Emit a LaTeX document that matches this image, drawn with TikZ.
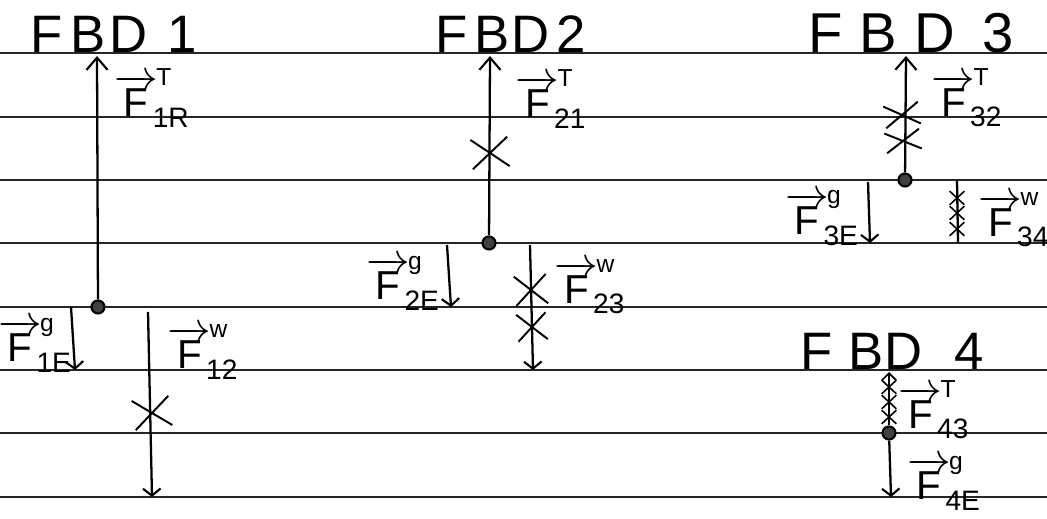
\documentclass[tikz,border=0pt]{standalone}
\usepackage{fontspec}
\setmainfont{Liberation Sans}
\usetikzlibrary{arrows.meta,shapes.misc}

% force label: vector F with a superscript type and a subscript pair
\newcommand{\forcelabel}[2]{$\overrightarrow{\mbox{F}}^{\kern-1pt\mbox{\fontsize{14}{14}\selectfont #1}}_{\kern-3pt\mbox{\fontsize{16}{16}\selectfont #2}}$}

\tikzset{
  ruling/.style={line width=1.1pt, black!85},
  force/.style={line width=1.3pt, -{Straight Barb[length=7pt,width=12pt,line width=1.2pt]}},
  downforce/.style={line width=1.3pt, -{Straight Barb[length=4pt,width=10pt,line width=1.2pt]}},
  body/.style={circle, draw, line width=1.2pt, fill=black!75, minimum size=0.26cm, inner sep=0pt},
  cut/.style={cross out, draw, line width=1.1pt, inner sep=0pt},
  smallcut/.style={cut, minimum width=0.26cm, minimum height=0.24cm, line width=0.9pt},
  bigcut/.style={cut, minimum width=0.7cm, minimum height=0.55cm},
  title/.style={anchor=base west, inner sep=0pt, font=\fontsize{30}{34}\selectfont},
  flabel/.style={inner sep=0pt, font=\fontsize{23}{26}\selectfont},
}

\begin{document}
\begin{tikzpicture}[x=0.02cm, y=-0.02cm]
\useasboundingbox (0,0) rectangle (1047,519);
\fill[white] (0,0) rectangle (1047,519);

% ruled paper
\foreach \y in {53,117,180,243,307,370,433,497}
  \draw[ruling] (0,\y) -- (1047,\y);

% ---------- FBD 1 ----------
\node[title] (t1) at (30,53) {\hbox to 3.34cm{F\hskip 0pt plus 1fil B\hskip 0pt plus 0.5fil D\hskip 0pt plus 2.5fil 1}};
\node[body] (d1) at (98,307) {};
\coordinate (d1T) at (97,56);
\draw[force] (d1) -- (d1T);
\node[flabel] (l1T) at (152,98) {\forcelabel{T}{1R}};
\coordinate (g1s) at (71,307);
\coordinate (g1e) at (75,370);
\draw[downforce] (g1s) -- (g1e);
\node[flabel] (l1g) at (35,345) {\forcelabel{g}{1E}};
\coordinate (w1s) at (148,312);
\coordinate (w1e) at (152,497);
\draw[downforce] (w1s) -- (w1e);
\node[bigcut, rotate=8] (x1) at (152,413) {};
\node[flabel] (l1w) at (203,352) {\forcelabel{w}{12}};

% ---------- FBD 2 ----------
\node[title] (t2) at (435,53) {\hbox to 3.0cm{F\hskip 0pt plus 1fil B\hskip 0pt plus 0.3fil D\hskip 0pt plus 1fil 2}};
\node[body] (d2) at (489,243) {};
\coordinate (d2T) at (490,56);
\draw[force] (d2) -- (d2T);
\node[bigcut, rotate=5] (x2) at (490,153) {};
\node[flabel] (l2T) at (551,99) {\forcelabel{T}{21}};
\coordinate (g2s) at (447,245);
\coordinate (g2e) at (451,307);
\draw[downforce] (g2s) -- (g2e);
\node[flabel] (l2g) at (403,283) {\forcelabel{g}{2E}};
\coordinate (w2s) at (530,245);
\coordinate (w2e) at (533,370);
\draw[downforce] (w2s) -- (w2e);
\node[cut, minimum width=0.6cm, minimum height=0.55cm, rotate=5] (x2a) at (531,290) {};
\node[cut, minimum width=0.55cm, minimum height=0.5cm, rotate=5] (x2b) at (532,327) {};
\node[flabel] (l2w) at (590,287) {\forcelabel{w}{23}};

% ---------- FBD 3 ----------
\node[title, font=\fontsize{32}{36}\selectfont] (t3) at (808,53) {\hbox to 4.1cm{F\hskip 0pt plus 1fil B\hskip 0pt plus 1fil D\hskip 0pt plus 1.6fil 3}};
\node[body] (d3) at (905,180) {};
\coordinate (d3T) at (906,56);
\draw[force] (d3) -- (d3T);
\node[cut, minimum width=0.66cm, minimum height=0.4cm, rotate=8] (x3a) at (902,115) {};
\node[cut, minimum width=0.66cm, minimum height=0.36cm, rotate=8] (x3b) at (903,141) {};
\node[flabel] (l3T) at (967,98) {\forcelabel{T}{32}};
\coordinate (g3s) at (868,182);
\coordinate (g3e) at (870,243);
\draw[downforce] (g3s) -- (g3e);
\node[flabel] (l3g) at (822,218) {\forcelabel{g}{3E}};
\coordinate (w3s) at (957,180);
\coordinate (w3e) at (958,243);
\draw[line width=1.3pt] (w3s) -- (w3e);
\node[smallcut] (x3c) at (957,198) {};
\node[smallcut] (x3d) at (957,213) {};
\node[smallcut] (x3e) at (957,229) {};
\node[flabel] (l3w) at (1014,220) {\forcelabel{w}{34}};

% ---------- FBD 4 ----------
\node[title] (t4) at (800,370) {\hbox to 3.66cm{F\hskip 0pt plus 1fil B\hskip 0pt plus 0.1fil D\hskip 0pt plus 2fil 4}};
\node[body] (d4) at (889,433) {};
\coordinate (d4T) at (889,372);
\draw[line width=1.3pt, -{Straight Barb[length=4pt,width=8pt,line width=1pt]}] (d4) -- (d4T);
\node[smallcut] (x4a) at (889,387) {};
\node[smallcut] (x4b) at (889,402) {};
\node[smallcut] (x4c) at (889,417) {};
\node[flabel] (l4T) at (934,410) {\forcelabel{T}{43}};
\coordinate (g4e) at (891,497);
\draw[downforce] (d4) -- (g4e);
\node[flabel] (l4g) at (944,483) {\forcelabel{g}{4E}};
\end{tikzpicture}
\end{document}
